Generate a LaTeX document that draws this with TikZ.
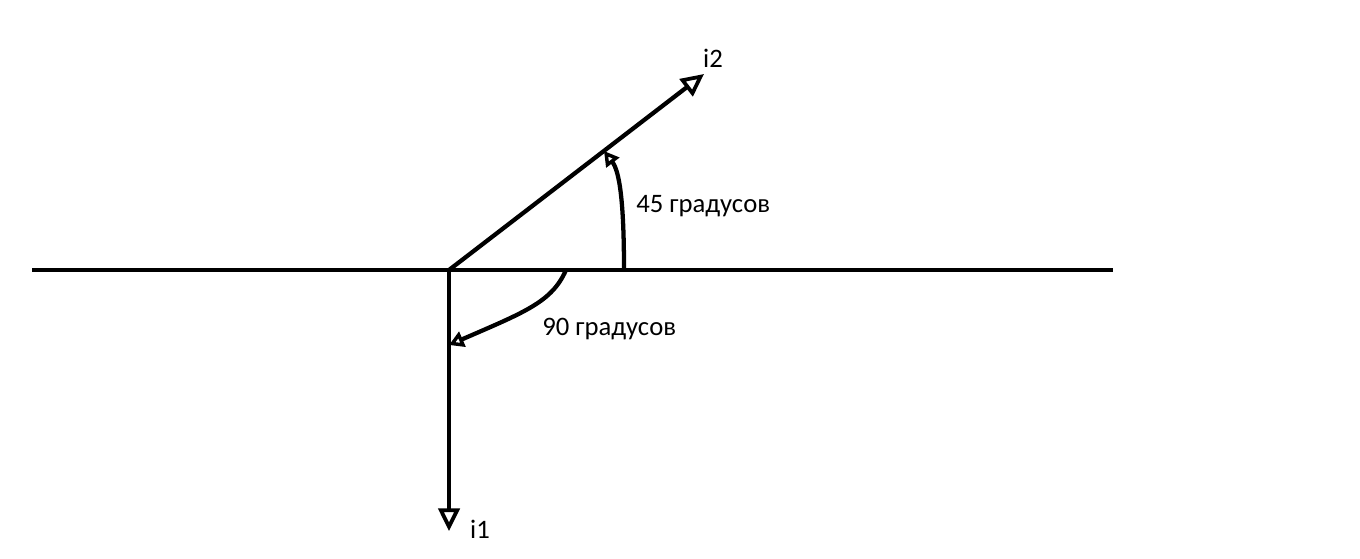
\documentclass[tikz,border=0pt]{standalone}
\usepackage{fontspec}
\setmainfont{Carlito}
\usetikzlibrary{arrows.meta}

\begin{document}
\begin{tikzpicture}[x=0.75pt,y=-0.75pt,
    thickline/.style={line width=3.2pt},
    bigtip/.style={-{Triangle[open,length=17pt,width=16pt,line width=2.8pt]}},
    smalltip/.style={-{Triangle[open,length=11pt,width=12pt,line width=2.6pt]}},
    lbl/.style={font=\fontsize{20}{22}\selectfont,inner sep=0pt}]
    \useasboundingbox (0,0) rectangle (1360,558);

    % Base line
    \coordinate (L) at (32,270);
    \coordinate (R) at (1113,270);
    \coordinate (O) at (449,270);
    \draw[thickline] (L) -- (R);

    % Vectors
    \coordinate (I2) at (704,74);
    \coordinate (I1) at (449,531);
    \draw[thickline,bigtip] (O) -- (I2);
    \draw[thickline,bigtip] (O) -- (I1);
    \node[lbl] (i2) at (713,58) {i2};
    \node[lbl] (i1) at (480,529) {i1};

    % Angle 45
    \coordinate (A1) at (624,270);
    \coordinate (A2) at (604,151);
    \draw[thickline,smalltip] (A1) .. controls (624,205) and (620,172) .. (A2);
    \node[lbl,anchor=west] (a45) at (636,206) {45 градусов};

    % Angle 90
    \coordinate (B1) at (566,270);
    \coordinate (B2) at (449,345);
    \draw[thickline,smalltip] (B1) .. controls (552,302) and (525,312) .. (B2);
    \node[lbl,anchor=west] (a90) at (542,329) {90 градусов};

\end{tikzpicture}
\end{document}
